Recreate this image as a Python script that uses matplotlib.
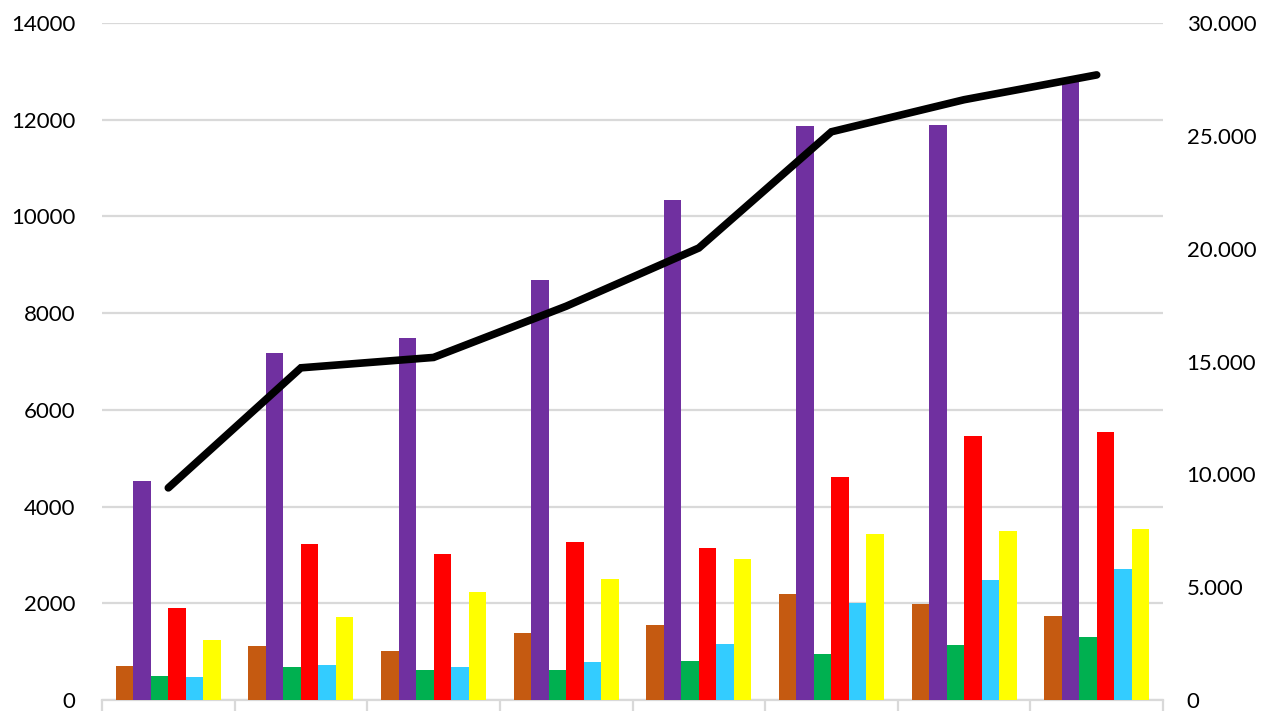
import matplotlib
matplotlib.use('Agg')
import matplotlib.pyplot as plt
import numpy as np
from matplotlib.ticker import FuncFormatter

# 8 groups; category labels sit below the cropped bottom edge in the reference
categories = ['G1', 'G2', 'G3', 'G4', 'G5', 'G6', 'G7', 'G8']

brown  = [700, 1120, 1020, 1390, 1550, 2190, 1980, 1740]
purple = [4530, 7170, 7490, 8690, 10350, 11870, 11900, 12870]
green  = [500, 680, 630, 620, 800, 950, 1130, 1300]
red    = [1900, 3230, 3020, 3270, 3140, 4620, 5450, 5550]
cyan   = [470, 730, 690, 780, 1160, 2000, 2480, 2710]
yellow = [1240, 1720, 2240, 2510, 2910, 3430, 3490, 3540]

# black line, right axis
total = [9400, 14720, 15180, 17450, 20030, 25180, 26600, 27700]

series = [
    (brown,  '#C55A11'),
    (purple, '#7030A0'),
    (green,  '#00B050'),
    (red,    '#FF0000'),
    (cyan,   '#33CCFF'),
    (yellow, '#FFFF00'),
]

plt.rcParams['font.family'] = ['Lato', 'DejaVu Sans']

fig = plt.figure(figsize=(12.63, 7.11), dpi=100)
ax = fig.add_axes([102 / 1263, 11 / 711, 1061 / 1263, 677 / 711])

x = np.arange(len(categories))
bw = 0.132
offsets = (np.arange(len(series)) - (len(series) - 1) / 2) * bw
for (vals, col), off in zip(series, offsets):
    ax.bar(x + off, vals, width=bw, color=col, zorder=3)

ax.set_xlim(-0.5, len(categories) - 0.5)
ax.set_ylim(0, 14000)
ax.set_yticks(np.arange(0, 14001, 2000))
ax.grid(axis='y', color='#d9d9d9', linewidth=1.6, zorder=0)
ax.set_axisbelow(True)

# category boundaries as downward ticks on the bottom axis
ax.set_xticks(np.arange(-0.5, len(categories), 1.0))
ax.set_xticklabels([])
ax.tick_params(axis='x', direction='out', length=14, width=1.6, color='#d9d9d9')
ax.tick_params(axis='y', length=0, pad=19, labelsize=16, labelcolor='black')
for s in ['top', 'left', 'right']:
    ax.spines[s].set_visible(False)
ax.spines['bottom'].set_color('#d9d9d9')
ax.spines['bottom'].set_linewidth(1.6)

ax2 = ax.twinx()
ax2.plot(x, total, color='black', linewidth=5.5, solid_capstyle='round',
         solid_joinstyle='miter', zorder=5)
ax2.set_ylim(0, 30000)
ax2.set_yticks(np.arange(0, 30001, 5000))
ax2.yaxis.set_major_formatter(FuncFormatter(lambda v, p: f'{int(v):,}'.replace(',', '.')))
ax2.tick_params(axis='y', length=0, pad=17, labelsize=16, labelcolor='black')
for s in ['top', 'left', 'right', 'bottom']:
    ax2.spines[s].set_visible(False)

fig.savefig('out.png', dpi=100)
